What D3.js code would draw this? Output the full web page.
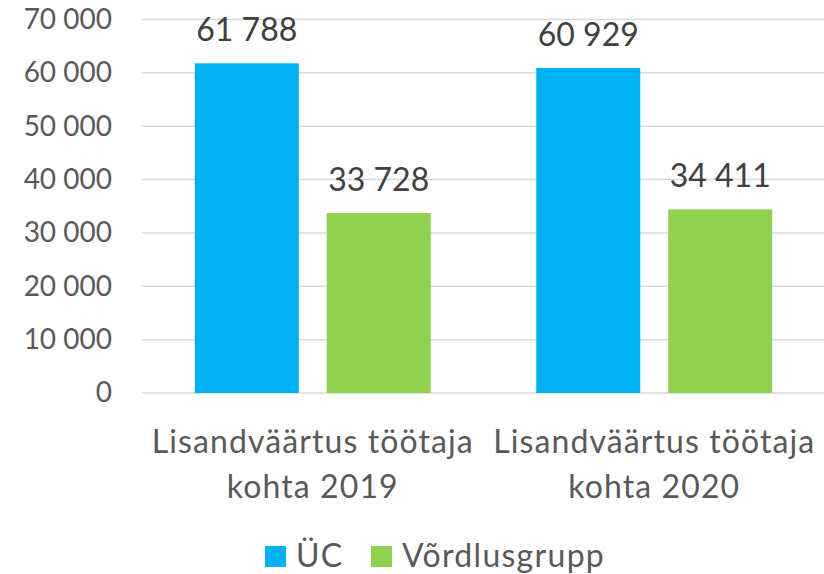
<!DOCTYPE html>
<html>
<head>
<meta charset="utf-8">
<script src="https://cdn.jsdelivr.net/npm/d3@7"></script>
<style>
  body { margin: 0; background: #fff; }
  svg { display: block; font-family: Lato, "Open Sans", sans-serif; }
</style>
</head>
<body>
<div id="chart"></div>
<script>
const categories = ["Lisandväärtus töötaja kohta 2019", "Lisandväärtus töötaja kohta 2020"];
const categoryLines = [["Lisandväärtus töötaja", "kohta 2019"], ["Lisandväärtus töötaja", "kohta 2020"]];
const seriesNames = ["ÜC", "Võrdlusgrupp"];
const ucValues = [61788, 60929];
const vordlusValues = [33728, 34411];
const yTicks = [0, 10000, 20000, 30000, 40000, 50000, 60000, 70000];
const colors = ["#00B0F0", "#92D050"];

const width = 824, height = 574;
const margin = { top: 19.5, right: -1, bottom: 181, left: 142 };

const svg = d3.select("#chart").append("svg")
  .attr("width", width)
  .attr("height", height);

const fmt = (v) => d3.format(",")(v).replace(/,/g, " ");

const x0 = d3.scaleBand()
  .domain(categories)
  .range([margin.left, width - margin.right])
  .padding(0);

const x1 = d3.scaleBand()
  .domain(seriesNames)
  .range([0, x0.bandwidth()])
  .paddingInner(0.212)
  .paddingOuter(0.4);

const y = d3.scaleLinear()
  .domain([0, 70000])
  .range([height - margin.bottom, margin.top]);

// gridlines
svg.append("g")
  .selectAll("line")
  .data(yTicks)
  .join("line")
  .attr("x1", margin.left)
  .attr("x2", width - margin.right)
  .attr("y1", (d) => y(d))
  .attr("y2", (d) => y(d))
  .attr("stroke", "#d9d9d9")
  .attr("stroke-width", 1.5);

// y axis labels
const yAxis = svg.append("g")
  .attr("transform", `translate(${margin.left},0)`)
  .call(d3.axisLeft(y).tickValues(yTicks).tickFormat(fmt).tickSize(0).tickPadding(30));
yAxis.select(".domain").remove();
yAxis.selectAll("text")
  .attr("fill", "#595959")
  .style("font-size", "28px")
  .style("font-family", "Lato, sans-serif");

const rows = categories.map((c, i) => ({
  cat: c,
  values: [
    { name: seriesNames[0], value: ucValues[i] },
    { name: seriesNames[1], value: vordlusValues[i] },
  ],
}));

const groups = svg.append("g")
  .selectAll("g")
  .data(rows)
  .join("g")
  .attr("transform", (d) => `translate(${x0(d.cat)},0)`);

groups.selectAll("rect")
  .data((d) => d.values)
  .join("rect")
  .attr("x", (d) => x1(d.name))
  .attr("y", (d) => y(d.value))
  .attr("width", x1.bandwidth())
  .attr("height", (d) => y(0) - y(d.value))
  .attr("fill", (d, i) => colors[i]);

// data labels
groups.selectAll("text.val")
  .data((d) => d.values)
  .join("text")
  .attr("class", "val")
  .attr("x", (d) => x1(d.name) + x1.bandwidth() / 2)
  .attr("y", (d) => y(d.value) - 22)
  .attr("text-anchor", "middle")
  .attr("fill", "#404040")
  .style("font-size", "32px")
  .text((d) => fmt(d.value));

// category labels
const catLabels = svg.append("g")
  .selectAll("text")
  .data(categories)
  .join("text")
  .attr("x", (d) => x0(d) + x0.bandwidth() / 2)
  .attr("y", 453)
  .attr("text-anchor", "middle")
  .attr("fill", "#595959")
  .style("font-size", "32px")
  .style("letter-spacing", "1.1px");

catLabels.selectAll("tspan")
  .data((d, i) => categoryLines[i])
  .join("tspan")
  .attr("x", function () { return d3.select(this.parentNode).attr("x"); })
  .attr("dy", (d, i) => (i === 0 ? 0 : 45))
  .text((d) => d);

// legend
const legendX = [265, 371];
const legend = svg.append("g")
  .selectAll("g")
  .data(seriesNames)
  .join("g")
  .attr("transform", (d, i) => `translate(${legendX[i]},546)`);

legend.append("rect")
  .attr("width", 21)
  .attr("height", 21)
  .attr("fill", (d, i) => colors[i]);

legend.append("text")
  .attr("x", 31)
  .attr("y", 21)
  .attr("fill", "#595959")
  .style("font-size", "32px")
  .style("letter-spacing", "1.3px")
  .text((d) => d);
</script>
</body>
</html>
